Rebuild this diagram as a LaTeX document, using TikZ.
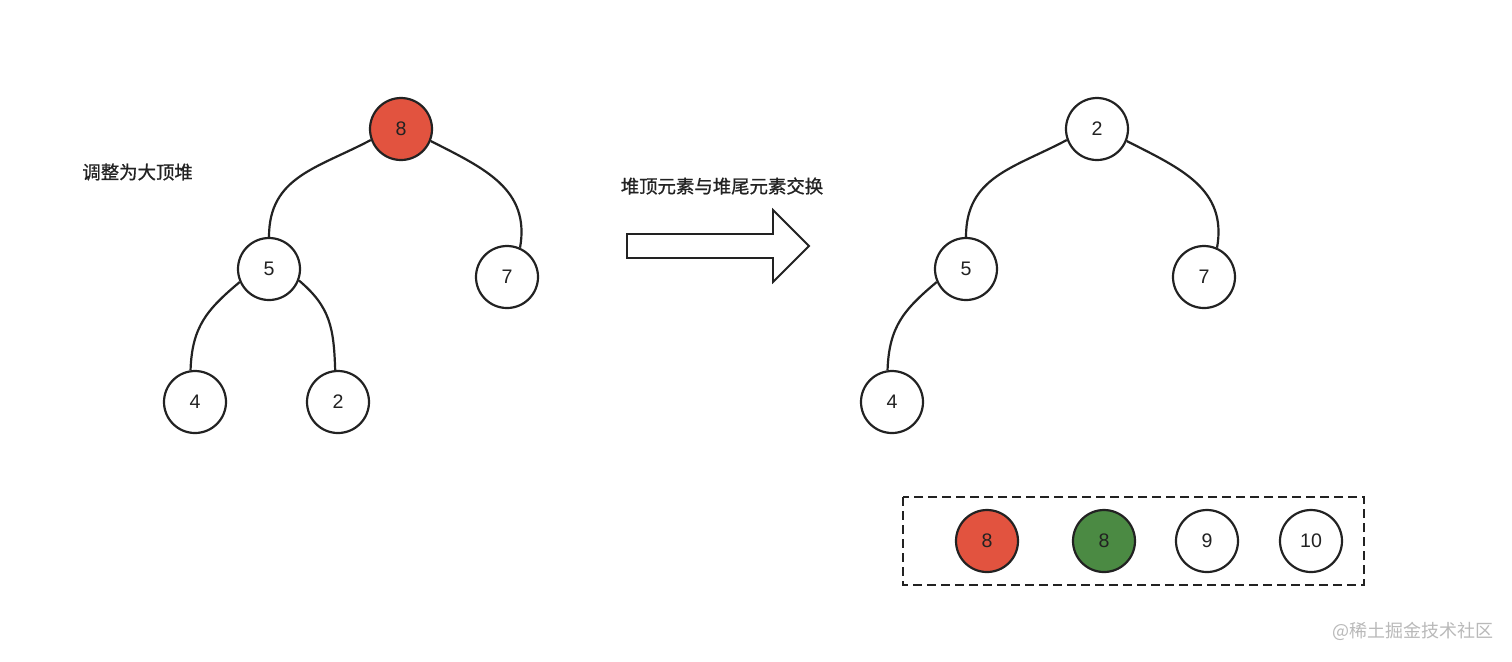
\documentclass[tikz,border=0pt]{standalone}
\usepackage{fontspec}
\setmainfont{Noto Sans CJK SC}
\newfontfamily\capfont{Noto Sans CJK SC}[FakeBold=0.8]
\newfontfamily\numfont{Liberation Sans}
\usepackage{xcolor}
\usepackage{tikz}
\usetikzlibrary{positioning}
\definecolor{heapred}{HTML}{E2533F}
\definecolor{heapgreen}{HTML}{4B8A43}
\definecolor{inkdark}{HTML}{222222}

\begin{document}
\begin{tikzpicture}[x=0.5pt, y=-0.5pt,
    heapnode/.style={circle, draw=inkdark, line width=1.1pt, minimum size=31pt, inner sep=0pt,
        fill=white, text=inkdark, font=\numfont\fontsize{9.8pt}{11pt}\selectfont},
    branch/.style={draw=inkdark, line width=1.1pt},
    caption/.style={inner sep=0pt, text=inkdark, font=\capfont\fontsize{9.2pt}{11pt}\selectfont}]
    \fill[white] (0,0) rectangle (1512,661);

    % Heap before the swap
    \node[heapnode, fill=heapred] (a8) at (401,129) {8};
    \node[heapnode] (a5) at (269,269) {5};
    \node[heapnode] (a7) at (507,277) {7};
    \node[heapnode] (a4) at (195,402) {4};
    \node[heapnode] (a2) at (338,402) {2};
    \draw[branch] (a8.200) to[out=208, in=90, looseness=1.1] (a5.north);
    \draw[branch] (a8.338) to[out=-27, in=80, looseness=1.1] (a7.66);
    \draw[branch] (a5.204) to[out=220, in=88, looseness=1.1] (a4.98);
    \draw[branch] (a5.339) to[out=-40, in=92, looseness=1.1] (a2.95);
    \node[caption, anchor=west] (title) at (82,172) {调整为大顶堆};

    % Swap arrow
    \draw[draw=inkdark, line width=0.9pt] (627,234) -- (773,234) -- (773,210) -- (809,246)
        -- (773,282) -- (773,258) -- (627,258) -- cycle;
    \node[caption] (swap) at (722,186) {堆顶元素与堆尾元素交换};

    % Heap after the swap
    \node[heapnode] (b2) at (1097,129) {2};
    \node[heapnode] (b5) at (966,269) {5};
    \node[heapnode] (b7) at (1204,277) {7};
    \node[heapnode] (b4) at (892,402) {4};
    \draw[branch] (b2.200) to[out=208, in=90, looseness=1.1] (b5.north);
    \draw[branch] (b2.338) to[out=-27, in=80, looseness=1.1] (b7.66);
    \draw[branch] (b5.204) to[out=220, in=88, looseness=1.1] (b4.98);

    % Sorted tail
    \draw[draw=inkdark, line width=1.1pt, dash pattern=on 4.5pt off 2.5pt] (903,497) rectangle (1364,585);
    \foreach \x/\v/\c [count=\i] in {987/8/heapred, 1104/8/heapgreen, 1207/9/white, 1311/10/white}
        \node[heapnode, fill=\c] (c\i) at (\x,541) {\v};

    \node[inner sep=0pt, text=gray!55, font=\fontsize{9pt}{11pt}\selectfont] (mark) at (1413,631) {@稀土掘金技术社区};
\end{tikzpicture}
\end{document}
